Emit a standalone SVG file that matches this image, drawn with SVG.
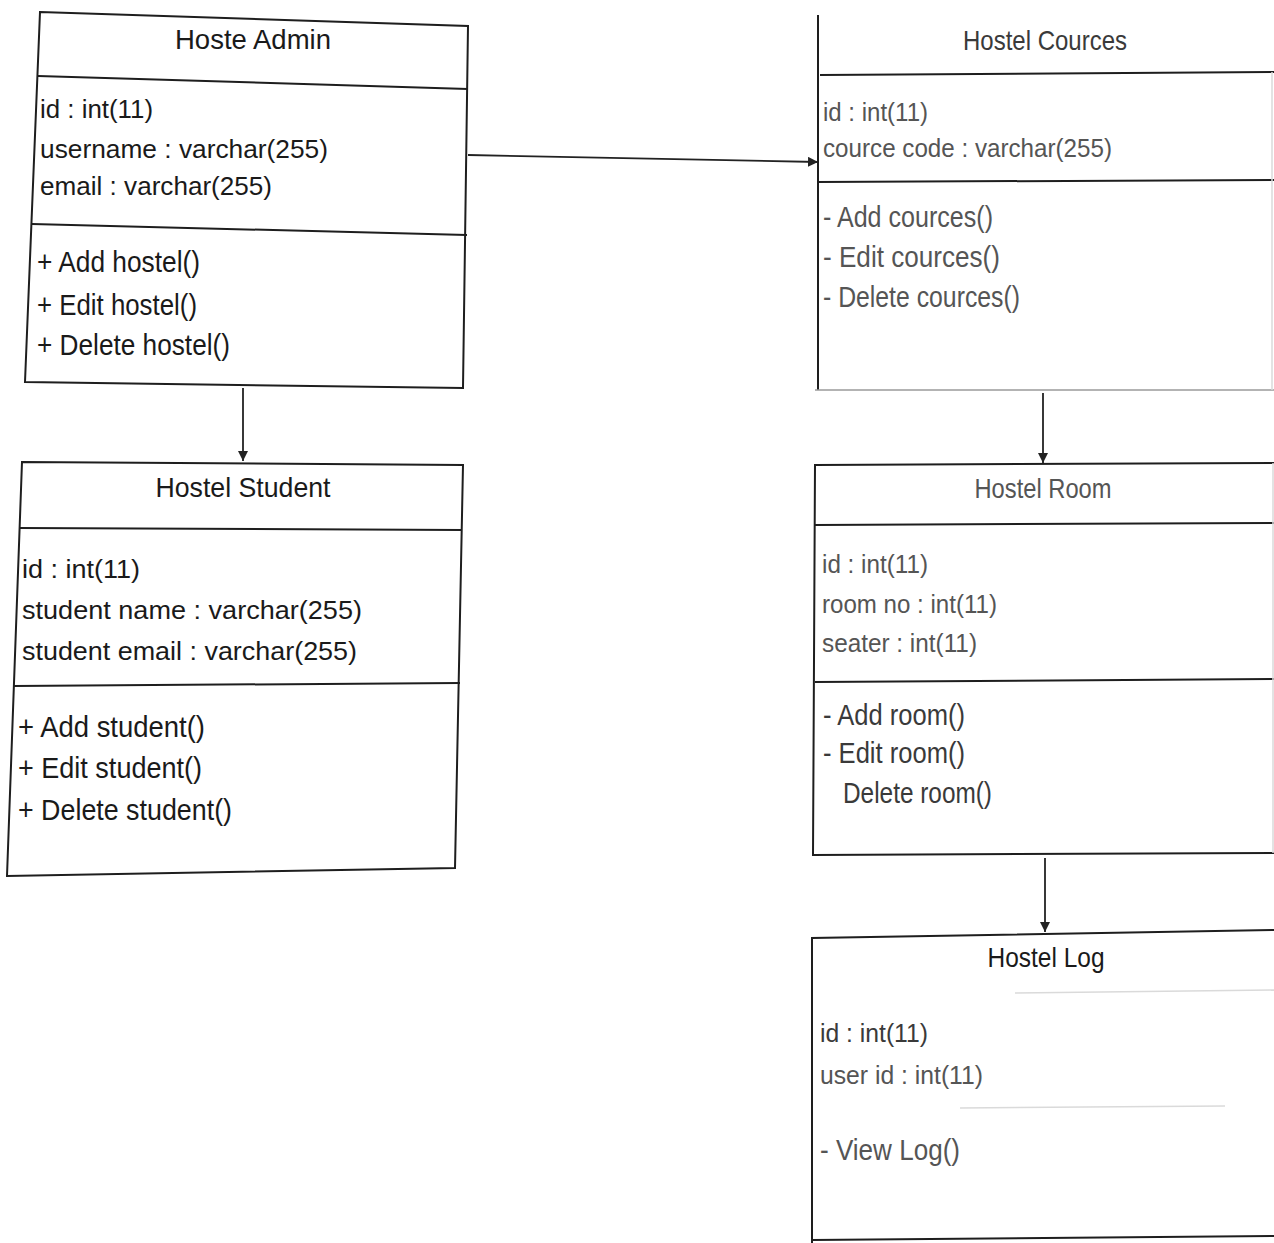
<svg xmlns="http://www.w3.org/2000/svg" width="1274" height="1243" viewBox="0 0 1274 1243">
<defs>
<style>
.box{fill:none;stroke:#1e1e1e;stroke-width:2}
.faint{fill:none;stroke:#9a9a9a;stroke-width:1.5}
.vfaint{fill:none;stroke:#dadada;stroke-width:1.5}
.conn{fill:none;stroke:#222;stroke-width:1.8}
text{font-family:"Liberation Sans",Arial,sans-serif;fill:#1a1a1a}
.t{font-size:28px;text-anchor:middle}
.a{font-size:26px}
.m{font-size:29px}
.g{fill:#3a3a3a}
.l{fill:#555}
</style>
<marker id="ah" viewBox="0 0 10 10" refX="10" refY="5" markerWidth="10" markerHeight="10" markerUnits="userSpaceOnUse" orient="auto">
<path d="M0,0 L10,5 L0,10 z" fill="#222"/>
</marker>
</defs>
<rect width="1274" height="1243" fill="#fff"/>

<g id="connectors">
<path class="conn" d="M468,155 L818,162" marker-end="url(#ah)"/>
<path class="conn" d="M243,388 L243,461" marker-end="url(#ah)"/>
<path class="conn" d="M1043,393 L1043,463" marker-end="url(#ah)"/>
<path class="conn" d="M1045,858 L1045,932" marker-end="url(#ah)"/>
</g>

<g id="hostel-admin">
<path class="box" d="M40,12 L468,26 L463,388 L25,382 Z"/>
<path class="box" d="M38,76 L468,89"/>
<path class="box" d="M32,224 L467,235"/>
<text class="t" x="253" y="49" textLength="156" lengthAdjust="spacingAndGlyphs">Hoste  Admin</text>
<text class="a" x="40" y="118" textLength="113" lengthAdjust="spacingAndGlyphs">id : int(11)</text>
<text class="a" x="40" y="158" textLength="288" lengthAdjust="spacingAndGlyphs">username : varchar(255)</text>
<text class="a" x="40" y="195" textLength="232" lengthAdjust="spacingAndGlyphs">email : varchar(255)</text>
<text class="m" x="37" y="272" textLength="163" lengthAdjust="spacingAndGlyphs">+ Add hostel()</text>
<text class="m" x="37" y="315" textLength="160" lengthAdjust="spacingAndGlyphs">+ Edit hostel()</text>
<text class="m" x="37" y="355" textLength="193" lengthAdjust="spacingAndGlyphs">+ Delete hostel()</text>
</g>

<g id="hostel-student">
<path class="box" d="M22,462 L463,465 L455,868 L7,876 Z"/>
<path class="box" d="M20,528 L462,530"/>
<path class="box" d="M14,686 L460,683"/>
<text class="t" x="243" y="497" textLength="175" lengthAdjust="spacingAndGlyphs">Hostel Student</text>
<text class="a" x="22" y="578" textLength="118" lengthAdjust="spacingAndGlyphs">id : int(11)</text>
<text class="a" x="22" y="619" textLength="340" lengthAdjust="spacingAndGlyphs">student name : varchar(255)</text>
<text class="a" x="22" y="660" textLength="335" lengthAdjust="spacingAndGlyphs">student email : varchar(255)</text>
<text class="m" x="18" y="737" textLength="187" lengthAdjust="spacingAndGlyphs">+ Add student()</text>
<text class="m" x="18" y="778" textLength="184" lengthAdjust="spacingAndGlyphs">+ Edit student()</text>
<text class="m" x="18" y="820" textLength="214" lengthAdjust="spacingAndGlyphs">+ Delete student()</text>
</g>

<g id="hostel-cources">
<path class="box" d="M818,15 L818,390"/>
<path class="box" d="M820,75 L1274,72"/>
<path class="box" d="M818,182 L1274,180"/>
<path class="faint" d="M815,390 L1274,390"/>
<path class="vfaint" d="M1272,72 L1272,390"/>
<text class="t g" x="1045" y="50" textLength="164" lengthAdjust="spacingAndGlyphs">Hostel Cources</text>
<text class="a l" x="823" y="121" textLength="105" lengthAdjust="spacingAndGlyphs">id : int(11)</text>
<text class="a l" x="823" y="157" textLength="289" lengthAdjust="spacingAndGlyphs">cource code : varchar(255)</text>
<text class="m l" x="823" y="227" textLength="170" lengthAdjust="spacingAndGlyphs">- Add cources()</text>
<text class="m l" x="823" y="267" textLength="177" lengthAdjust="spacingAndGlyphs">- Edit cources()</text>
<text class="m l" x="823" y="307" textLength="197" lengthAdjust="spacingAndGlyphs">- Delete cources()</text>
</g>

<g id="hostel-room">
<path class="box" d="M1274,463 L815,465 L813,855 L1274,853"/>
<path class="box" d="M815,525 L1274,523"/>
<path class="box" d="M815,682 L1274,679"/>
<path class="vfaint" d="M1273,463 L1273,853"/>
<text class="t l" x="1043" y="498" textLength="137" lengthAdjust="spacingAndGlyphs">Hostel Room</text>
<text class="a l" x="822" y="573" textLength="106" lengthAdjust="spacingAndGlyphs">id : int(11)</text>
<text class="a l" x="822" y="613" textLength="175" lengthAdjust="spacingAndGlyphs">room no : int(11)</text>
<text class="a l" x="822" y="652" textLength="155" lengthAdjust="spacingAndGlyphs">seater : int(11)</text>
<text class="m g" x="823" y="725" textLength="142" lengthAdjust="spacingAndGlyphs">- Add room()</text>
<text class="m g" x="823" y="763" textLength="142" lengthAdjust="spacingAndGlyphs">- Edit room()</text>
<text class="m g" x="843" y="803" textLength="149" lengthAdjust="spacingAndGlyphs">Delete room()</text>
</g>

<g id="hostel-log">
<path class="box" d="M1274,930 L812,938 L812,1243"/>
<path class="box" d="M812,1240 L1274,1236"/>
<path class="vfaint" d="M1015,993 L1274,990"/>
<path class="vfaint" d="M960,1108 L1225,1106"/>
<text class="t" x="1046" y="967" textLength="117" lengthAdjust="spacingAndGlyphs">Hostel Log</text>
<text class="a g" x="820" y="1042" textLength="108" lengthAdjust="spacingAndGlyphs">id : int(11)</text>
<text class="a l" x="820" y="1084" textLength="163" lengthAdjust="spacingAndGlyphs">user id : int(11)</text>
<text class="m l" x="820" y="1160" textLength="140" lengthAdjust="spacingAndGlyphs">- View Log()</text>
</g>
</svg>
